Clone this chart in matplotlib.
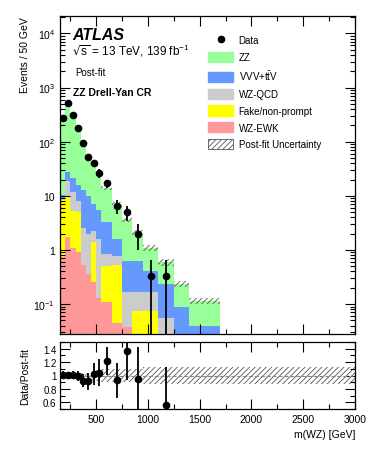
import numpy as np
import matplotlib
matplotlib.use('Agg')
import matplotlib.pyplot as plt
from matplotlib.ticker import MultipleLocator, LogLocator, NullFormatter, FuncFormatter
from matplotlib.patches import Patch
from matplotlib.lines import Line2D

plt.rcParams['font.family'] = ['Liberation Sans', 'DejaVu Sans']
plt.rcParams['mathtext.default'] = 'regular'
plt.rcParams['hatch.linewidth'] = 0.6

# бины m(WZ), ГэВ
edges = np.array([150, 200, 250, 300, 350, 400, 450, 500, 550, 650, 750, 850, 950, 1100, 1250, 1400, 1700])
ratio_last_edge = 3000

# события / 50 ГэВ, по компонентам (снизу вверх)
wz_ewk = [0.75, 1.7, 1.1, 0.9, 0.53, 0.36, 0.26, 0.13, 0.11, 0.045, 0.037, 0, 0, 0, 0, 0]
fake = [7.75, 8.3, 4.2, 4.1, 0, 0, 1.14, 0, 0.39, 0.475, 0, 0.075, 0.075, 0, 0, 0]
wz_qcd = [0.3, 8.7, 6.7, 3.0, 1.97, 1.64, 0.8, 1.47, 0.33, 0.25, 0.133, 0.095, 0.095, 0.055, 0.02, 0.01]
vvv = [1.7, 8.8, 9.0, 8.0, 10.4, 8.0, 4.8, 3.9, 2.47, 0.83, 0.46, 0.46, 0.23, 0.175, 0.07, 0.03]
zz = [256.5, 482.5, 287, 164, 88.1, 48, 32, 19.5, 10.7, 5.4, 3.02, 1.47, 0.7, 0.36, 0.144, 0.075]
rel_unc = [0.02, 0.02, 0.02, 0.025, 0.03, 0.04, 0.06, 0.08, 0.1, 0.1, 0.1, 0.1, 0.12, 0.13, 0.13, 0.13]

# данные
data_y = [270, 515, 310, 178, 93, 53, 40, 26, 17, 6.5, 5.0, 2.0, 0.333, 0.333]
data_err = [16.4, 22.7, 17.6, 13.3, 9.6, 7.3, 6.3, 5.1, 2.9, 1.8, 1.6, 1.0, 0.333, 0.333]

components = [
    ('WZ-EWK', wz_ewk, '#ff9999'),
    ('Fake/non-prompt', fake, '#ffff00'),
    ('WZ-QCD', wz_qcd, '#cccccc'),
    (r'VVV+t$\bar{t}$V', vvv, '#6699ff'),
    ('ZZ', zz, '#99ff99'),
]

fig = plt.figure(figsize=(3.74, 4.56), dpi=100)
W, H = 374, 456
ax = fig.add_axes([60 / W, 1 - 335 / H, 295 / W, 318 / H])
rax = fig.add_axes([60 / W, 1 - 410 / H, 295 / W, 67 / H])

# Стек
bottom = np.zeros(len(edges) - 1)
for name, vals, col in components:
    vals = np.array(vals, dtype=float)
    ax.stairs(bottom + vals, edges, baseline=bottom.copy(), fill=True, color=col, lw=0)
    bottom = bottom + vals
total = bottom
unc = np.array(rel_unc)

ax.stairs(total * (1 + unc), edges, baseline=total * (1 - unc), fill=True,
          facecolor='none', edgecolor='#555555', hatch='//////', lw=0)

centers = 0.5 * (edges[:-1] + edges[1:])
nd = len(data_y)
ax.errorbar(centers[:nd], data_y, yerr=data_err, fmt='o', color='black', ms=4.5, lw=1.3, capsize=0)

ax.set_yscale('log')
ax.set_xlim(150, 3000)
ax.set_ylim(0.028, 2.1e4)


def ylab(v, pos):
    if v < 0.05 or v > 2e4:
        return ''
    if abs(v - 1) < 1e-9:
        return '1'
    if abs(v - 10) < 1e-9:
        return '10'
    return r'$10^{%d}$' % int(round(np.log10(v)))


ax.yaxis.set_major_locator(LogLocator(base=10, numticks=10))
ax.yaxis.set_minor_locator(LogLocator(base=10, subs=np.arange(2, 10), numticks=20))
ax.yaxis.set_major_formatter(FuncFormatter(ylab))
ax.yaxis.set_minor_formatter(NullFormatter())
ax.xaxis.set_major_locator(MultipleLocator(500))
ax.xaxis.set_minor_locator(MultipleLocator(250))
for a in (ax, rax):
    a.tick_params(which='both', direction='in', top=True, right=True, labelsize=7.5, width=0.8)
    a.tick_params(which='major', length=7)
    a.tick_params(which='minor', length=3.5)
    for s in a.spines.values():
        s.set_linewidth(0.9)
ax.tick_params(axis='x', labelbottom=False)
rax.tick_params(axis='y', labelsize=7, pad=2.5)
ax.set_ylabel('Events / 50 GeV', fontsize=7.5, loc='top')

# Подписи
fig.text(72 / W, 1 - 35 / H, 'ATLAS', fontsize=11.5, weight='bold', style='italic', va='center')
fig.text(72 / W, 1 - 51 / H, r'$\sqrt{s}$ = 13 TeV, 139 fb$^{-1}$', fontsize=8.5, va='center')
fig.text(75 / W, 1 - 73 / H, 'Post-fit', fontsize=7, va='center')
fig.text(73 / W, 1 - 93 / H, 'ZZ Drell-Yan CR', fontsize=7.5, weight='bold', va='center')

handles = [Line2D([], [], color='black', marker='o', ms=4.5, lw=1.3, ls='')]
labels = ['Data']
for name, vals, col in components[::-1]:
    handles.append(Patch(facecolor=col, edgecolor=col))
    labels.append(name)
handles.append(Patch(facecolor='white', edgecolor='#555555', hatch='//////', lw=0.6))
labels.append('Post-fit Uncertainty')
ax.legend(handles, labels, loc='upper left', bbox_to_anchor=(148 / 295, 1 - 19 / 318), frameon=False,
          fontsize=7, handlelength=2.6, handleheight=1.25, labelspacing=0.65, handletextpad=0.55,
          borderpad=0, borderaxespad=0)

# Отношение
total_d = total[:nd]
ratio = np.array(data_y) / total_d
ratio_err = np.array(data_err) / total_d
show = ratio >= 0.5
redges = np.append(edges[:-1], ratio_last_edge)
rax.stairs(1 + unc, redges, baseline=1 - unc, fill=True,
           facecolor='none', edgecolor='#555555', hatch='//////', lw=0)
rax.axhline(1, color='#888888', ls='--', lw=0.8)
rax.errorbar(centers[:nd][show], ratio[show], yerr=ratio_err[show], fmt='o', color='black',
             ms=4.5, lw=1.3, capsize=0)
rax.set_xlim(150, 3000)
rax.set_ylim(0.5, 1.5)
rax.xaxis.set_major_locator(MultipleLocator(500))
rax.xaxis.set_minor_locator(MultipleLocator(250))
rax.yaxis.set_major_locator(MultipleLocator(0.2))
rax.yaxis.set_minor_locator(MultipleLocator(0.1))
rax.yaxis.set_major_formatter(FuncFormatter(lambda v, p: '%g' % round(v, 2) if 0.55 < v < 1.45 else ''))
rax.set_ylabel('Data/Post-fit', fontsize=7.5)
rax.set_xlabel('m(WZ) [GeV]', fontsize=7.5, loc='right')
rax.yaxis.set_label_coords(-30 / 295, 0.5)
ax.yaxis.set_label_coords(-30 / 295, 1)

fig.savefig('out.png', dpi=100)
